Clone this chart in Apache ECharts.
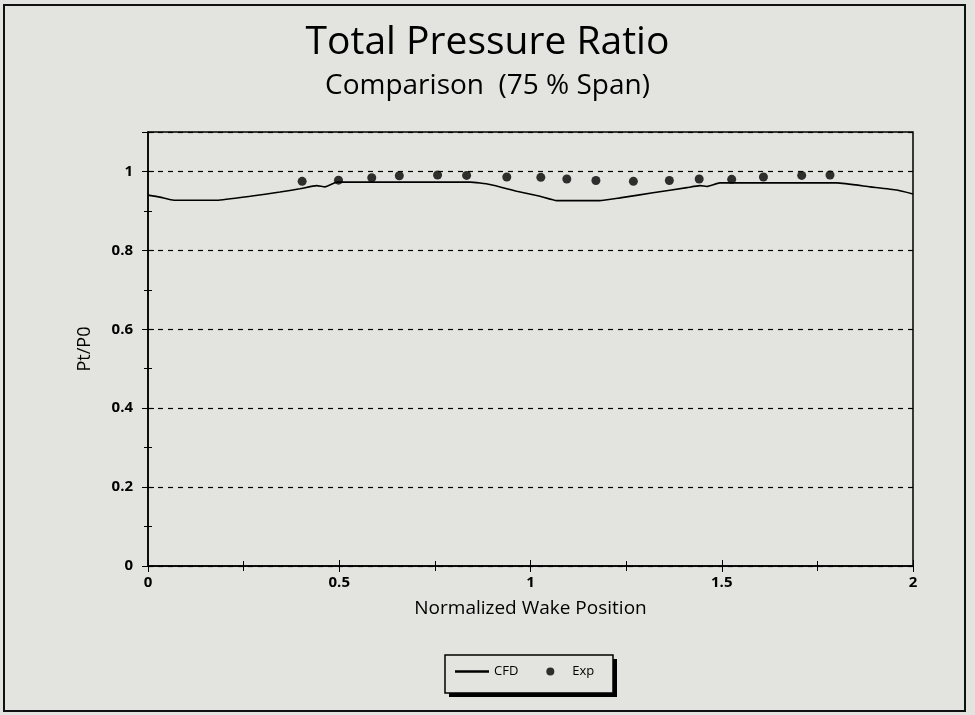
<!DOCTYPE html>
<html><head><meta charset="utf-8">
<script src="https://cdn.jsdelivr.net/npm/echarts@6/dist/echarts.min.js"></script>
<style>html,body{margin:0;padding:0;background:#e3e4df;}#c{width:975px;height:715px;}</style>
</head><body><div id="c"></div>
<script>
const titleText = 'Total Pressure Ratio';
const subtitleText = 'Comparison  (75 % Span)';
const xName = 'Normalized Wake Position';
const yName = 'Pt/P0';
const cfdX = [0, 0.031, 0.068, 0.18, 0.267, 0.345, 0.397, 0.441, 0.463, 0.494, 0.842, 0.894, 0.964, 1.025, 1.069, 1.18, 1.234, 1.32, 1.409, 1.443, 1.461, 1.495, 1.801, 1.888, 1.958, 2.0];
const cfdY = [0.940, 0.935, 0.927, 0.927, 0.937, 0.948, 0.956, 0.964, 0.961, 0.973, 0.973, 0.967, 0.950, 0.937, 0.926, 0.926, 0.933, 0.946, 0.959, 0.964, 0.962, 0.971, 0.971, 0.961, 0.953, 0.943];
const expX = [0.403, 0.498, 0.585, 0.657, 0.757, 0.833, 0.938, 1.027, 1.095, 1.171, 1.269, 1.363, 1.441, 1.526, 1.609, 1.709, 1.783];
const expY = [0.975, 0.978, 0.984, 0.989, 0.991, 0.990, 0.986, 0.985, 0.981, 0.977, 0.975, 0.977, 0.981, 0.980, 0.986, 0.990, 0.991];
const xTicks = [0, 0.5, 1, 1.5, 2];
const yTicks = [0, 0.2, 0.4, 0.6, 0.8, 1];

const chart = echarts.init(document.getElementById('c'), null, {renderer:'canvas'});
const font = '"Open Sans", "DejaVu Sans", sans-serif';
const fmt = v => { const r = Math.round(v*10)/10; return (yTicks.indexOf(r) >= 0 || xTicks.indexOf(r) >= 0) ? String(r) : ''; };
const axisLineStyle = {color:'#000', width:1.5};
chart.setOption({
  backgroundColor:'#e3e4df',
  animation:false,
  title:[
    {text:titleText, left:'center', top:18, textStyle:{fontFamily:font, fontSize:39, fontWeight:'normal', color:'#000'}},
    {text:subtitleText, left:'center', top:67, textStyle:{fontFamily:font, fontSize:28, fontWeight:'normal', color:'#000'}}
  ],
  graphic:[
    {type:'rect', z:0, shape:{x:4, y:5, width:961, height:706}, style:{fill:'none', stroke:'#111', lineWidth:2}},
    {type:'rect', z:1, shape:{x:449, y:659, width:168, height:38}, style:{fill:'#000'}},
    {type:'rect', z:2, shape:{x:445, y:655, width:168, height:38}, style:{fill:'#e3e4df', stroke:'#000', lineWidth:1.5}}
  ],
  grid:{left:148, right:62, top:132, bottom:149, show:true, borderColor:'#000', borderWidth:1.5, backgroundColor:'transparent'},
  legend:{
    z:10,
    data:[{name:'CFD', icon:'path://M0,0 L1,0 L1,0.08 L0,0.08 Z'}, {name:'Exp', icon:'circle'}],
    left:455, top:665, orient:'horizontal', padding:0, itemGap:28, itemWidth:34, itemHeight:8,
    textStyle:{fontFamily:font, fontSize:13, color:'#000'}
  },
  xAxis:[
    {type:'value', min:0, max:2, interval:0.5, name:xName, nameLocation:'middle', nameGap:33,
     nameTextStyle:{fontFamily:font, fontSize:19, color:'#000'},
     axisLine:{show:true, lineStyle:axisLineStyle}, axisTick:{show:true, length:6, lineStyle:{color:'#000'}},
     minorTick:{show:true, splitNumber:2, length:5, lineStyle:{color:'#000'}},
     axisLabel:{fontFamily:font, fontSize:15, fontWeight:'bold', color:'#000', margin:9, formatter:fmt},
     splitLine:{show:false}},
    {type:'value', min:0, max:2, interval:0.5, position:'bottom', gridIndex:0,
     axisLine:{show:false}, axisTick:{show:true, inside:true, length:6, lineStyle:{color:'#000'}},
     minorTick:{show:true, splitNumber:2, length:5, lineStyle:{color:'#000'}},
     axisLabel:{show:false}, splitLine:{show:false}}
  ],
  yAxis:[
    {type:'value', min:0, max:1.1, interval:0.2, name:yName, nameLocation:'middle', nameGap:54, nameRotate:90,
     nameTextStyle:{fontFamily:font, fontSize:18, color:'#000'},
     axisLine:{show:true, lineStyle:axisLineStyle}, axisTick:{show:true, length:6, lineStyle:{color:'#000'}},
     minorTick:{show:true, splitNumber:2, length:4, lineStyle:{color:'#000'}},
     axisLabel:{fontFamily:font, fontSize:15, fontWeight:'bold', color:'#000', margin:15, showMaxLabel:false, formatter:fmt},
     splitLine:{show:true, lineStyle:{color:'#000', type:[5,5], width:1.2}}},
    {type:'value', min:0, max:1.1, interval:0.2, position:'left', gridIndex:0,
     axisLine:{show:false}, axisTick:{show:true, inside:true, length:6, lineStyle:{color:'#000'}},
     minorTick:{show:true, splitNumber:2, length:4, lineStyle:{color:'#000'}},
     axisLabel:{show:false}, splitLine:{show:false}}
  ],
  series:[
    {name:'CFD', type:'line', data:cfdX.map((x,i)=>[x,cfdY[i]]), showSymbol:false, symbol:'none', smooth:0.15,
     lineStyle:{color:'#000', width:1.6}, itemStyle:{color:'#000'}, z:5},
    {name:'Exp', type:'scatter', data:expX.map((x,i)=>[x,expY[i]]), symbol:'circle', symbolSize:9,
     itemStyle:{color:'#000'}, z:6}
  ]
});
</script></body></html>
